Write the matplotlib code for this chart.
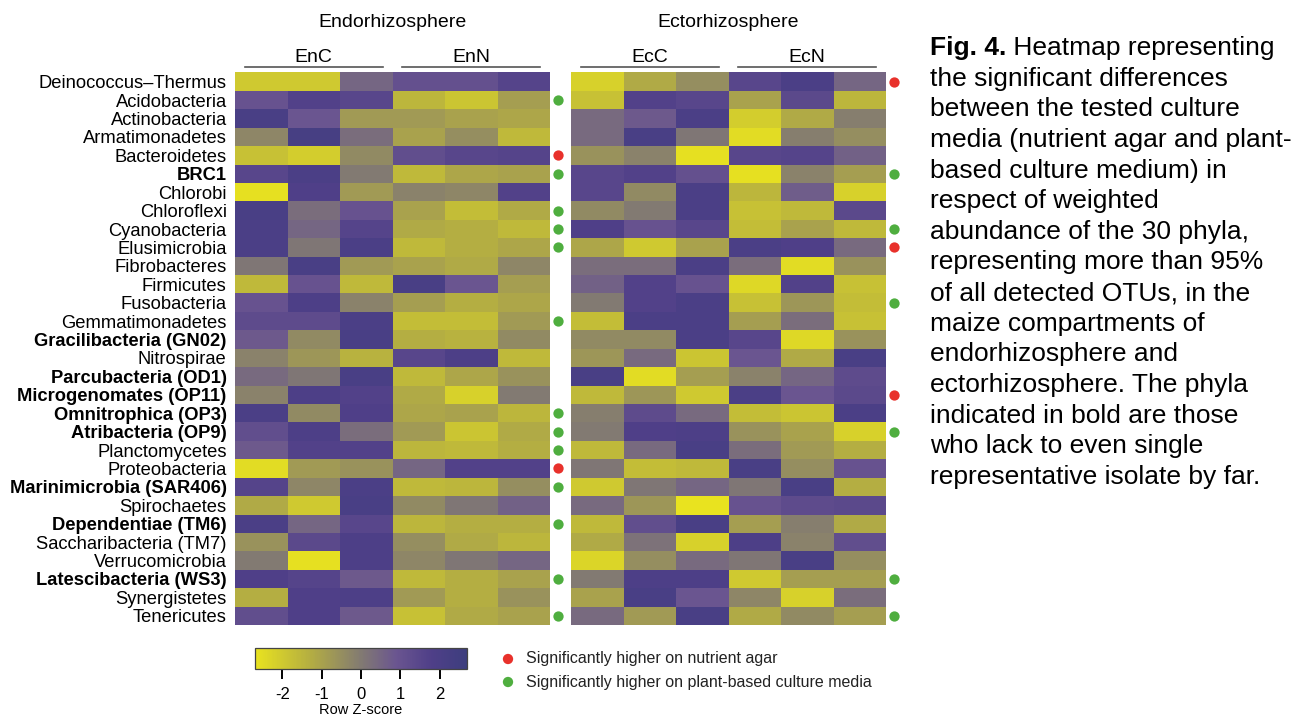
import numpy as np
import matplotlib.pyplot as plt
from matplotlib.colors import LinearSegmentedColormap

plt.rcParams['font.family']=['Liberation Sans','DejaVu Sans']
plt.rcParams['axes.unicode_minus']=False
#<----------------------Filos (filas del heatmap)--------------------->
phyla=["Deinococcus\u2013Thermus","Acidobacteria","Actinobacteria","Armatimonadetes","Bacteroidetes",
       "BRC1","Chlorobi","Chloroflexi","Cyanobacteria","Elusimicrobia","Fibrobacteres","Firmicutes",
       "Fusobacteria","Gemmatimonadetes","Gracilibacteria (GN02)","Nitrospirae","Parcubacteria (OD1)",
       "Microgenomates (OP11)","Omnitrophica (OP3)","Atribacteria (OP9)","Planctomycetes","Proteobacteria",
       "Marinimicrobia (SAR406)","Spirochaetes","Dependentiae (TM6)","Saccharibacteria (TM7)",
       "Verrucomicrobia","Latescibacteria (WS3)","Synergistetes","Tenericutes"]
bold_phyla=["BRC1","Gracilibacteria (GN02)","Parcubacteria (OD1)","Microgenomates (OP11)","Omnitrophica (OP3)",
            "Atribacteria (OP9)","Marinimicrobia (SAR406)","Dependentiae (TM6)","Latescibacteria (WS3)"]
#<----------------------Row Z-score por muestra (3 replicas por grupo)--------------------->
enc=[[-2.0,-2.0,0.5],[1.0,1.7,1.5],[2.1,0.9,-0.8],[-0.3,2.2,0.3],[-1.8,-2.1,-0.4],
     [1.5,2.0,0.0],[-2.6,1.8,-0.8],[2.1,0.3,1.0],[2.0,0.5,1.6],[2.0,0.1,2.0],
     [0.1,2.1,-0.8],[-1.6,1.0,-1.6],[1.0,1.9,-0.2],[1.3,1.3,2.0],[0.8,-0.4,2.1],
     [-0.2,-0.7,-1.4],[0.4,0.1,2.1],[-0.2,1.9,1.7],[2.0,-0.4,1.8],[1.2,1.9,0.3],
     [0.8,1.7,1.7],[-2.5,-0.8,-0.6],[1.6,-0.3,2.0],[-1.2,-2.0,2.1],[2.0,0.5,1.5],
     [-0.6,1.4,1.9],[0.0,-2.6,1.9],[1.8,1.6,0.8],[-1.3,1.8,1.9],[1.2,1.8,0.8]]
enn=[[1.1,1.1,1.6],[-1.5,-1.9,-0.9],[-0.8,-1.0,-1.1],[-1.0,-0.5,-1.6],[1.2,1.5,1.6],
     [-1.6,-1.1,-1.0],[-0.2,-0.3,1.7],[-1.0,-1.7,-1.2],[-1.2,-1.3,-1.6],[-1.6,-1.3,-1.1],
     [-1.0,-1.2,-0.3],[2.1,0.9,-0.9],[-0.9,-1.3,-1.1],[-1.7,-1.7,-0.8],[-1.3,-1.4,-0.4],
     [1.5,1.9,-1.6],[-1.6,-1.1,-0.6],[-1.2,-2.2,0.0],[-1.1,-1.0,-1.5],[-0.8,-1.9,-1.2],
     [-1.5,-1.6,-1.3],[0.5,1.7,1.7],[-1.6,-1.5,-0.5],[-0.4,0.1,0.6],[-1.5,-1.3,-1.3],
     [-0.5,-1.2,-1.5],[-0.3,0.1,0.5],[-1.6,-1.3,-1.0],[-0.8,-1.3,-0.6],[-1.8,-1.2,-1.0]]
ecc=[[-2.2,-1.2,-0.5],[-1.8,1.7,1.5],[0.4,0.8,2.0],[0.4,2.1,0.1],[-0.6,-0.2,-2.6],
     [1.5,1.7,1.1],[1.5,-0.4,2.0],[-0.4,0.0,2.0],[1.8,1.0,1.5],[-1.1,-2.0,-1.0],
     [0.3,0.3,2.0],[0.6,1.7,1.0],[0.0,1.7,2.0],[-1.7,2.0,2.0],[-0.4,-0.4,2.0],
     [-0.7,0.4,-1.9],[2.1,-2.5,-0.9],[-1.6,-0.7,-2.0],[-0.1,1.3,0.4],[0.0,1.8,1.9],
     [-1.6,0.4,2.1],[0.1,-1.7,-1.6],[-2.0,0.1,0.5],[0.4,-0.7,-2.7],[-1.6,1.2,2.1],
     [-1.2,0.2,-2.2],[-2.3,-0.5,0.4],[0.0,1.9,1.9],[-1.0,2.1,0.9],[0.4,-0.8,2.1]]
ecn=[[1.5,2.0,0.5],[-1.0,1.4,-1.5],[-2.1,-1.2,-0.1],[-2.5,-0.1,-0.5],[1.5,1.6,0.6],
     [-2.6,-0.2,-0.9],[-1.5,0.7,-2.2],[-1.8,-1.6,1.4],[-1.7,-1.0,-1.6],[2.0,1.8,0.4],
     [0.3,-2.5,-0.6],[-2.4,1.7,-1.8],[-1.8,-0.7,-1.7],[-0.9,0.3,-1.8],[1.5,-2.4,-0.6],
     [0.9,-1.2,2.1],[-0.2,0.5,1.3],[2.0,0.9,1.4],[-1.7,-1.9,2.0],[-0.6,-1.0,-2.2],
     [0.3,-0.8,-1.3],[2.1,-0.5,1.0],[0.1,2.1,-1.3],[1.0,1.3,1.4],[-0.9,-0.1,-1.2],
     [1.9,-0.2,1.2],[0.1,2.1,-0.5],[-2.0,-0.9,-0.9],[-0.3,-2.2,0.3],[-1.2,-0.4,-0.9]]
#<----------------------Diferencias significativas (r=agar nutritivo, g=medio vegetal)--------------------->
sig_endo=["","g","","","r","g","","g","g","g","","","","g","","","","","g","g","g","r","g","","g","","","g","","g"]
sig_ecto=["r","","","","","g","","","g","r","","","g","","","","","r","","g","","","","","","","","g","","g"]
groups_endo=["EnC","EnN"];groups_ecto=["EcC","EcN"]
caption=["Heatmap representing","the significant differences","between the tested culture",
         "media (nutrient agar and plant-","based culture medium) in","respect of weighted",
         "abundance of the 30 phyla,","representing more than 95%","of all detected OTUs, in the",
         "maize compartments of","endorhizosphere and","ectorhizosphere. The phyla",
         "indicated in bold are those","who lack to even single","representative isolate by far."]
#<----------------------Posiciones en pixeles--------------------->
W,H=1306,718
def caja(x0,y0,x1,y1):
    return [x0/W,1-y1/H,(x1-x0)/W,(y1-y0)/H]
cmap=LinearSegmentedColormap.from_list("zscore",[(0,"#e9e31f"),(0.25,"#b6b040"),(0.5,"#827a72"),
                                                 (0.667,"#6a5590"),(0.833,"#4f3f88"),(1,"#3d3e7e")])
colores={"r":"#e8312b","g":"#4fae3f"}
fig=plt.figure(figsize=(13.06,7.18),dpi=100)
#<----------------------Paneles del heatmap--------------------->
paneles=[(caja(235,72.5,550,625),enc,enn,groups_endo,sig_endo,"Endorhizosphere"),
         (caja(571,72.5,886,625),ecc,ecn,groups_ecto,sig_ecto,"Ectorhizosphere")]
for k,(pos,a,b,grupos,sig,titulo) in enumerate(paneles):
    ax=fig.add_axes(pos)
    datos=np.hstack([np.array(a),np.array(b)])
    mesh=ax.pcolormesh(np.arange(7),np.arange(31),datos,cmap=cmap,vmin=-2.7,vmax=2.7)
    ax.set_xlim(0,6);ax.set_ylim(30,0)
    ax.set_xticks([])
    for s in ax.spines.values():
        s.set_visible(False)
    if k==0:
        ax.set_yticks(np.arange(30)+0.5)
        ax.set_yticklabels(phyla,fontsize=13.2)
        ax.tick_params(axis="y",length=0,pad=6)
        for lab in ax.get_yticklabels():
            if lab.get_text() in bold_phyla:
                lab.set_fontweight("bold")
    else:
        ax.set_yticks([])
#<----------------------Encabezados y lineas--------------------->
    for j,g in enumerate(grupos):
        ax.plot([3*j+0.19,3*j+2.81],[-0.3,-0.3],color="#555555",lw=1.2,clip_on=False)
        ax.text(3*j+1.5,-0.84,g,ha="center",va="center",fontsize=14)
    ax.text(3,-2.74,titulo,ha="center",va="center",fontsize=14)
#<----------------------Puntos de significancia--------------------->
    for i,s in enumerate(sig):
        if s:
            ax.scatter(6.16,i+0.5,s=55,color=colores[s],clip_on=False,zorder=5,linewidths=0)
#<----------------------Barra de color--------------------->
cax=fig.add_axes(caja(255,648,467,669))
cb=fig.colorbar(mesh,cax=cax,orientation="horizontal",ticks=[-2,-1,0,1,2])
cb.outline.set_linewidth(0.9)
cb.outline.set_edgecolor("#444444")
cb.ax.tick_params(length=7,width=1.4,labelsize=12,pad=6)
cb.set_label("Row Z-score",fontsize=10.5,labelpad=1)
#<----------------------Leyenda y texto--------------------->
cap=fig.add_axes([0,0,1,1]);cap.set_xlim(0,W);cap.set_ylim(H,0);cap.axis("off")
cap.scatter([508,508],[659,682],s=55,color=[colores["r"],colores["g"]],linewidths=0)
cap.text(526,659,"Significantly higher on nutrient agar",va="center",fontsize=11.5,color="#222222")
cap.text(526,682,"Significantly higher on plant-based culture media",va="center",fontsize=11.5,color="#222222")
t=cap.text(930,48,"Fig. 4.",fontsize=19,fontweight="bold",va="center")
cap.annotate(" "+caption[0],xy=(1,0),xycoords=t,va="bottom",ha="left",fontsize=19)
for i,linea in enumerate(caption[1:]):
    cap.text(930,48+30.64*(i+1),linea,fontsize=19,va="center")
plt.savefig("out.png",dpi=100)
